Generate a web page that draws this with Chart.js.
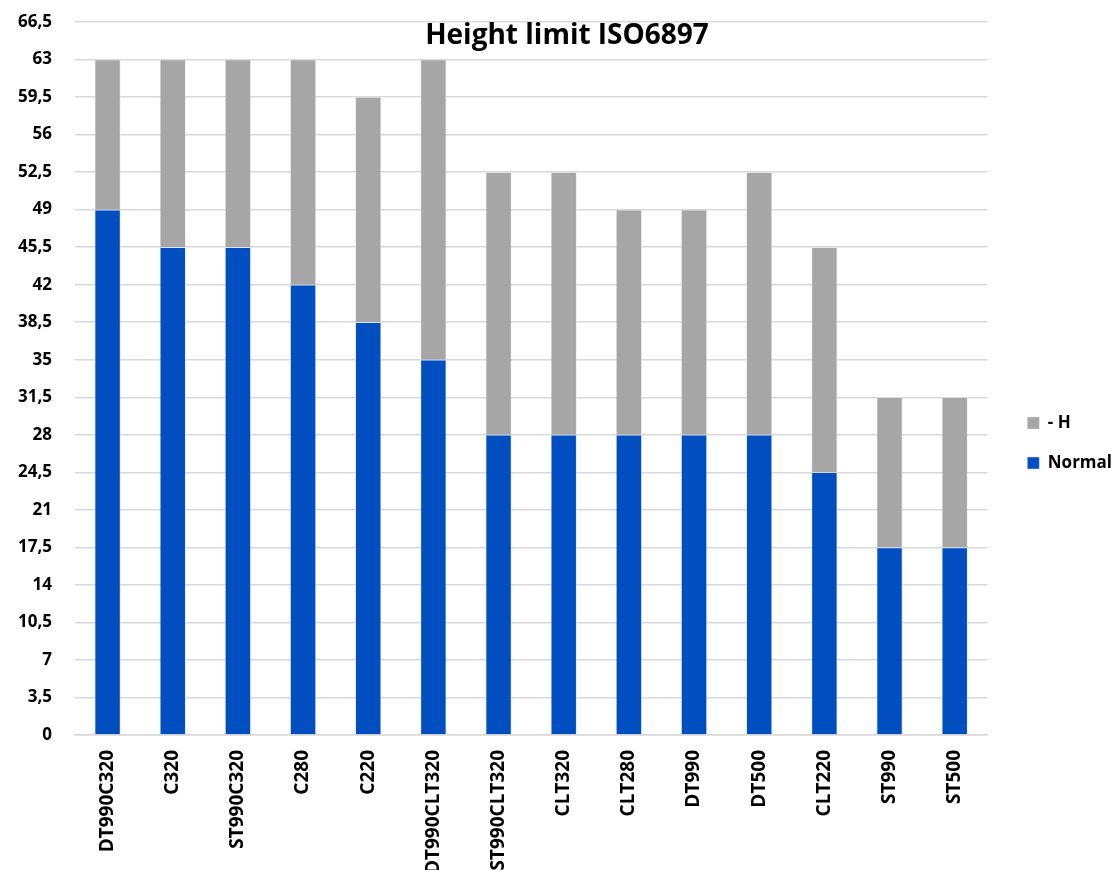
<!DOCTYPE html>
<html>
<head>
<meta charset="utf-8">
<script src="https://cdn.jsdelivr.net/npm/chart.js@4/dist/chart.umd.min.js"></script>
<style>
  html, body { margin: 0; padding: 0; background: #fff; }
  #wrap { width: 1115px; height: 870px; position: relative; }
</style>
</head>
<body>
<div id="wrap"><canvas id="c" width="1115" height="870"></canvas></div>
<script>
const categories = ['DT990C320', 'C320', 'ST990C320', 'C280', 'C220', 'DT990CLT320', 'ST990CLT320', 'CLT320', 'CLT280', 'DT990', 'DT500', 'CLT220', 'ST990', 'ST500'];
const normalValues = [49, 45.5, 45.5, 42, 38.5, 35, 28, 28, 28, 28, 28, 24.5, 17.5, 17.5];
const hValues = [14, 17.5, 17.5, 21, 21, 28, 24.5, 24.5, 21, 21, 24.5, 21, 14, 14];
const yMax = 66.5;
const yStep = 3.5;
const chartTitle = 'Height limit ISO6897';

const FONT = '"Open Sans", "Noto Sans", sans-serif';

// Title drawn over the top of the plot area, and legend nudged right of the plot
const overlayPlugin = {
  id: 'overlayTitle',
  afterLayout(chart) {
    const lg = chart.legend;
    if (lg) {
      const dx = 17, dy = -3;
      lg.left += dx;
      lg.right += dx;
      lg.top += dy;
      lg.bottom += dy;
    }
  },
  afterDraw(chart) {
    const ctx = chart.ctx;
    ctx.save();
    ctx.font = 'bold 28px ' + FONT;
    ctx.fillStyle = '#000';
    ctx.textAlign = 'center';
    ctx.textBaseline = 'middle';
    ctx.fillText(chartTitle, 567, 36);
    ctx.restore();
  }
};

new Chart(document.getElementById('c'), {
  type: 'bar',
  data: {
    labels: categories,
    datasets: [
      { label: 'Normal', data: normalValues, backgroundColor: '#004EBF', borderColor: 'rgba(200,215,240,0.7)', borderWidth: 0.8, categoryPercentage: 1, barPercentage: 0.4 },
      { label: '- H', data: hValues, backgroundColor: '#A6A6A6', borderColor: 'rgba(225,225,225,0.7)', borderWidth: 0.8, categoryPercentage: 1, barPercentage: 0.4 }
    ]
  },
  options: {
    responsive: false,
    animation: false,
    devicePixelRatio: 1,
    layout: { padding: { top: 22, left: 5, right: 10, bottom: 0 } },
    plugins: {
      title: { display: false },
      tooltip: { enabled: false },
      legend: {
        position: 'right',
        reverse: true,
        labels: {
          boxWidth: 12,
          boxHeight: 12,
          padding: 23,
          color: '#000',
          font: { family: FONT, size: 17, weight: 'bold' }
        }
      }
    },
    scales: {
      x: {
        stacked: true,
        grid: { display: false, drawTicks: false },
        border: { color: '#d9d9d9', width: 1.5 },
        afterFit(scale) {
          scale.height = 135;
          scale.paddingLeft = 0;
          scale.paddingRight = 0;
          scale.paddingTop = 0;
        },
        ticks: {
          color: '#000',
          maxRotation: 90,
          minRotation: 90,
          padding: 15,
          autoSkip: false,
          font: { family: FONT, size: 19, weight: 'bold' }
        }
      },
      y: {
        stacked: true,
        min: 0,
        max: yMax,
        grid: { color: '#d9d9d9', lineWidth: 1.5, drawTicks: false },
        border: { display: false },
        afterFit(scale) {
          scale.width = 70;
          scale.paddingTop = 0;
          scale.paddingBottom = 0;
        },
        ticks: {
          stepSize: yStep,
          padding: 23,
          color: '#000',
          font: { family: FONT, size: 17, weight: 'bold' },
          callback: v => String(v).replace('.', ',')
        }
      }
    }
  },
  plugins: [overlayPlugin]
});
</script>
</body>
</html>
